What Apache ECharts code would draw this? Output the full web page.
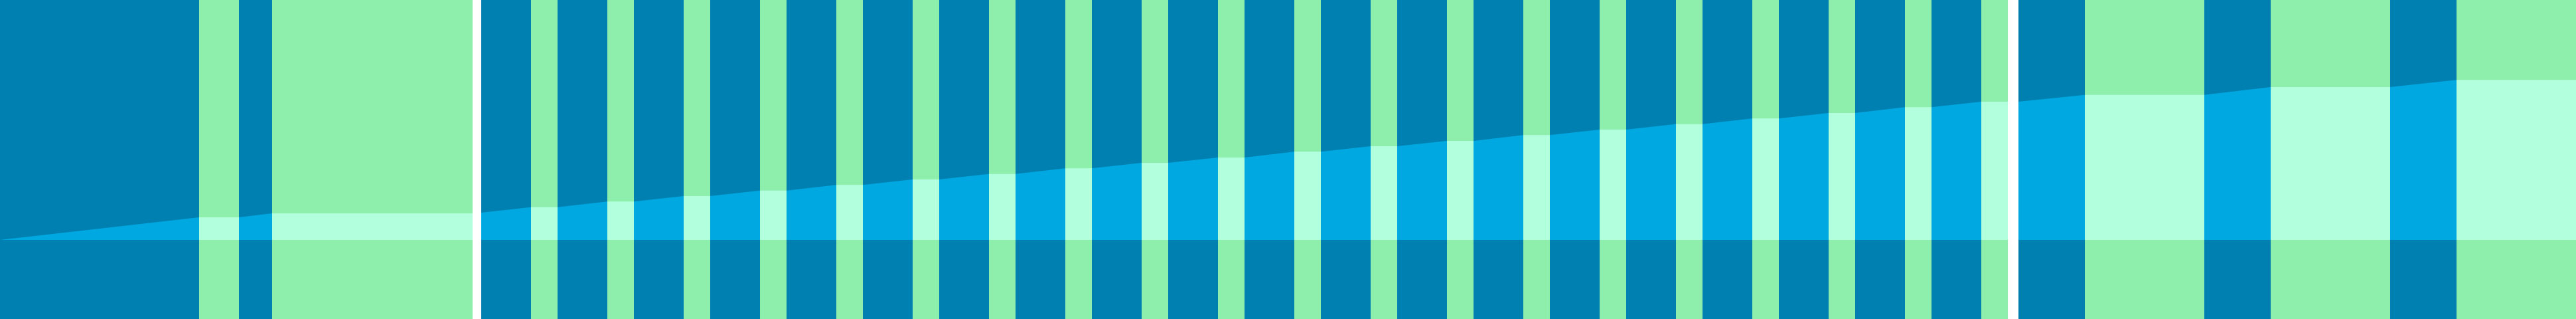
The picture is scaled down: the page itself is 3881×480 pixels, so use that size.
<!DOCTYPE html>
<html>
<head>
<meta charset="utf-8">
<script src="https://cdn.jsdelivr.net/npm/echarts@6/dist/echarts.min.js"></script>
<style>
  html, body { margin: 0; padding: 0; background: #ffffff; }
  #chart { width: 3881px; height: 480px; }
</style>
</head>
<body>
<div id="chart"></div>
<script>
// Colours
const DARK_BLUE = '#0080b0';
const GREEN = '#8eeeac';
const LIGHT_BLUE = '#00a8e1';
const MINT = '#b2ffde';
const GAP = '#ffffff';

// Axis extents (x units along the timeline, y units of cumulative value)
const xRange = [0, 3881];
const yRange = [-119, 361];

// Periods (start, end)
const blueBands = [
  [0, 300], [360, 410],
  [725, 800], [840, 915], [955, 1030], [1070, 1145], [1185, 1260],
  [1300, 1375], [1415, 1490], [1530, 1605], [1645, 1720], [1760, 1835],
  [1875, 1950], [1990, 2065], [2105, 2180], [2220, 2295], [2335, 2410],
  [2450, 2525], [2565, 2640], [2680, 2755], [2795, 2870], [2910, 2985],
  [3041, 3141], [3321, 3421], [3601, 3701]
];
const greenBands = [
  [300, 360], [410, 712],
  [800, 840], [915, 955], [1030, 1070], [1145, 1185], [1260, 1300],
  [1375, 1415], [1490, 1530], [1605, 1645], [1720, 1760], [1835, 1875],
  [1950, 1990], [2065, 2105], [2180, 2220], [2295, 2335], [2410, 2450],
  [2525, 2565], [2640, 2680], [2755, 2795], [2870, 2910], [2985, 3025],
  [3141, 3321], [3421, 3601], [3701, 3881]
];
const gapBands = [[712, 725], [3025, 3041]];

// Cumulative line: x positions and values
const lineX = [
  0, 300, 360, 410, 712, 725,
  800, 840, 915, 955, 1030, 1070, 1145, 1185, 1260, 1300,
  1375, 1415, 1490, 1530, 1605, 1645, 1720, 1760, 1835, 1875,
  1950, 1990, 2065, 2105, 2180, 2220, 2295, 2335, 2410, 2450,
  2525, 2565, 2640, 2680, 2755, 2795, 2870, 2910, 2985, 3025,
  3041, 3141, 3321, 3421, 3601, 3701, 3881
];
const lineY = [
  0, 34, 34, 40, 40, 41,
  49.3, 49.3, 57.7, 57.7, 66, 66, 74.3, 74.3, 82.7, 82.7,
  91, 91, 99.3, 99.3, 107.7, 107.7, 116, 116, 124, 124,
  132.7, 132.7, 141, 141, 149, 149, 157.7, 157.7, 166, 166,
  174.3, 174.3, 182.7, 182.7, 191, 191, 199.7, 199.7, 208, 208,
  208, 218.3, 218.3, 230, 230, 240.7, 240.7
];

const lineData = lineX.map((x, i) => [x, lineY[i]]);

const markAreaData = []
  .concat(blueBands.map(b => [{ xAxis: b[0], itemStyle: { color: DARK_BLUE, opacity: 1 } }, { xAxis: b[1] }]))
  .concat(greenBands.map(b => [{ xAxis: b[0], itemStyle: { color: GREEN, opacity: 1 } }, { xAxis: b[1] }]));

const pieces = []
  .concat(blueBands.map(b => ({ gte: b[0], lt: b[1], color: LIGHT_BLUE })))
  .concat(greenBands.map(b => ({ gte: b[0], lt: b[1], color: MINT })))
  .concat(gapBands.map(b => ({ gte: b[0], lt: b[1], color: GAP })))
  .sort((a, b) => a.gte - b.gte);

const chart = echarts.init(document.getElementById('chart'), null, { renderer: 'canvas' });
chart.setOption({
  animation: false,
  backgroundColor: '#ffffff',
  grid: { left: 0, right: 0, top: 0, bottom: 0, containLabel: false },
  xAxis: {
    type: 'value', min: xRange[0], max: xRange[1],
    show: false, splitLine: { show: false }
  },
  yAxis: {
    type: 'value', min: yRange[0], max: yRange[1],
    show: false, splitLine: { show: false }
  },
  visualMap: {
    type: 'piecewise', show: false, dimension: 0, seriesIndex: 0,
    pieces: pieces,
    outOfRange: { color: LIGHT_BLUE }
  },
  series: [{
    type: 'line',
    z: 3,
    symbol: 'none',
    silent: true,
    lineStyle: { width: 0 },
    areaStyle: { opacity: 1 },
    data: lineData,
    markArea: {
      z: 1,
      silent: true,
      label: { show: false },
      data: markAreaData
    }
  }]
});
</script>
</body>
</html>
